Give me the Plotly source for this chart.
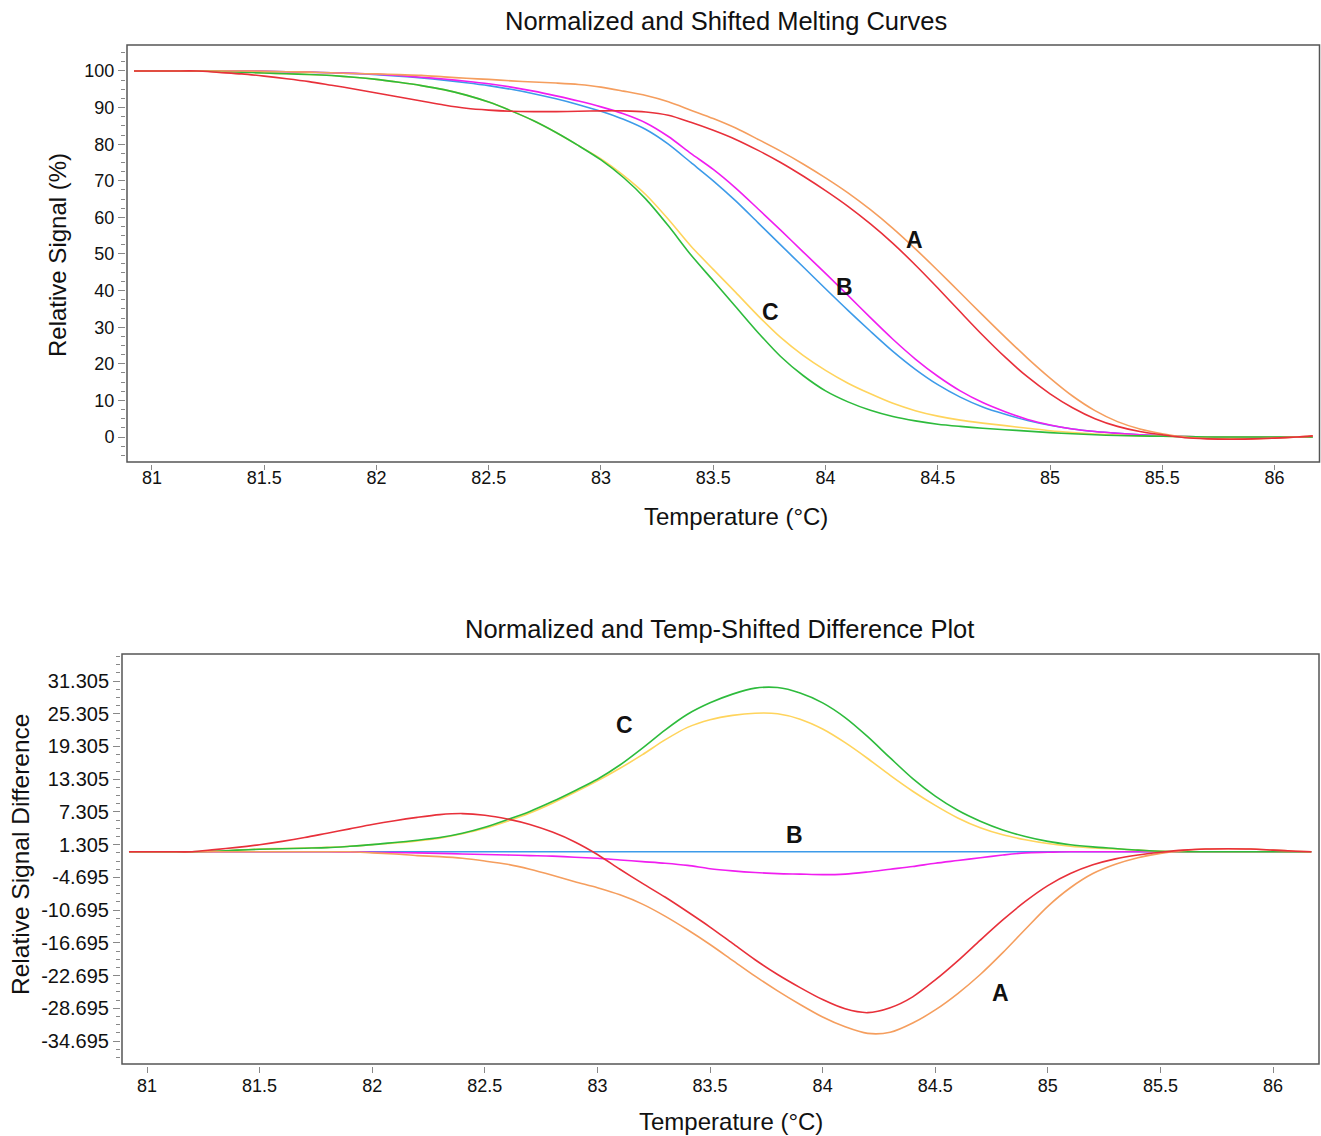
import plotly.graph_objects as go

W, H = 1321, 1136

# ---------------- data ----------------
temperature = [80.92, 81.0, 81.1, 81.2, 81.3, 81.4, 81.5, 81.6, 81.7, 81.8, 81.9, 82.0, 82.1, 82.2,
               82.3, 82.4, 82.5, 82.6, 82.7, 82.8, 82.9, 83.0, 83.1, 83.2, 83.3, 83.4, 83.5, 83.6,
               83.7, 83.8, 83.9, 84.0, 84.1, 84.2, 84.3, 84.4, 84.5, 84.6, 84.7, 84.8, 84.9, 85.0,
               85.1, 85.2, 85.3, 85.4, 85.5, 85.6, 85.7, 85.8, 85.9, 86.0, 86.1, 86.17]

# Top panel: relative signal (%)
sig_blue = [100, 100, 100, 100, 100, 100, 99.9, 99.8, 99.7, 99.5, 99.3, 99.0, 98.6, 98.1,
            97.5, 96.8, 96.0, 95.0, 93.8, 92.4, 90.8, 89.0, 86.8, 84.0, 80.0, 75.0, 70.0, 64.5,
            58.5, 52.5, 46.5, 40.5, 34.6, 28.9, 23.4, 18.5, 14.3, 10.9, 8.2, 6.2, 4.5, 3.2,
            2.2, 1.5, 1.0, 0.6, 0.3, 0.1, 0.0, 0.0, 0.0, 0.0, 0.0, 0.0]
sig_magenta = [100, 100, 100, 100, 100, 100, 99.9, 99.8, 99.7, 99.5, 99.35, 99.1, 98.75, 98.3,
               97.8, 97.2, 96.5, 95.6, 94.5, 93.2, 91.8, 90.2, 88.3, 85.8, 82.1, 77.5, 73.1, 68.0,
               62.3, 56.5, 50.6, 44.7, 38.7, 32.6, 26.7, 21.3, 16.6, 12.6, 9.4, 6.9, 4.8, 3.3,
               2.2, 1.5, 1.0, 0.6, 0.3, 0.1, 0.0, 0.0, 0.0, 0.0, 0.0, 0.0]
sig_green = [100, 100, 100, 100, 99.9, 99.7, 99.45, 99.25, 99.05, 98.75, 98.3, 97.7, 96.9, 96.0,
             94.9, 93.4, 91.5, 89.1, 86.4, 83.2, 79.6, 75.7, 70.9, 65.0, 57.7, 49.8, 42.7, 35.6,
             28.5, 22.0, 16.8, 12.6, 9.6, 7.3, 5.6, 4.4, 3.5, 2.9, 2.4, 2.0, 1.6, 1.2,
             0.9, 0.6, 0.4, 0.3, 0.2, 0.1, 0.0, 0.0, 0.0, 0.0, 0.0, 0.0]
sig_yellow = [100, 100, 100, 100, 99.9, 99.7, 99.45, 99.25, 99.05, 98.75, 98.3, 97.7, 96.9, 96.0,
              94.9, 93.4, 91.5, 89.1, 86.4, 83.2, 79.6, 76.0, 71.5, 66.2, 59.5, 52.2, 45.8, 39.5,
              33.1, 27.2, 22.3, 18.2, 14.7, 11.8, 9.2, 7.2, 5.7, 4.6, 3.8, 3.1, 2.4, 1.7,
              1.2, 0.8, 0.5, 0.3, 0.2, 0.1, 0.0, 0.0, 0.0, 0.0, 0.0, 0.0]
sig_orange = [100, 100, 100, 100, 100, 100, 99.9, 99.8, 99.7, 99.5, 99.3, 99.2, 99.0, 98.8,
              98.4, 98.0, 97.7, 97.3, 97.0, 96.7, 96.3, 95.6, 94.5, 93.3, 91.6, 89.3, 87.0, 84.4,
              81.3, 78.1, 74.6, 70.8, 66.7, 62.1, 57.0, 51.4, 45.5, 39.4, 33.3, 27.3, 21.5, 16.1,
              11.2, 7.2, 4.2, 2.2, 0.9, 0.0, -0.4, -0.5, -0.5, -0.3, 0.0, 0.3]
sig_red = [100, 100, 100, 100, 99.6, 99.2, 98.6, 97.9, 97.1, 96.1, 95.1, 94.0, 92.9, 91.8,
           90.7, 89.8, 89.3, 89.0, 88.9, 88.9, 89.0, 89.1, 89.1, 88.8, 87.9, 86.0, 83.8, 81.3,
           78.3, 75.0, 71.3, 67.3, 63.0, 58.2, 52.9, 47.0, 40.7, 34.2, 27.8, 21.8, 16.4, 11.8,
           8.0, 5.0, 2.9, 1.5, 0.6, -0.2, -0.5, -0.6, -0.5, -0.3, 0.0, 0.3]

# Bottom panel: relative signal difference
diff_blue = [0, 0, 0, 0, 0, 0, 0, 0, 0, 0, 0, 0, 0, 0, 0, 0, 0, 0, 0, 0, 0, 0, 0, 0, 0, 0, 0,
             0, 0, 0, 0, 0, 0, 0, 0, 0, 0, 0, 0, 0, 0, 0, 0, 0, 0, 0, 0, 0, 0, 0, 0, 0, 0, 0]
diff_magenta = [0, 0, 0, 0, 0, 0, 0, 0, 0, 0, -0.05, -0.1, -0.15, -0.2,
                -0.3, -0.4, -0.5, -0.6, -0.7, -0.8, -1.0, -1.2, -1.5, -1.8, -2.1, -2.5, -3.1, -3.5,
                -3.8, -4.0, -4.1, -4.2, -4.1, -3.7, -3.2, -2.7, -2.1, -1.6, -1.1, -0.6, -0.2, -0.1,
                0, 0, 0, 0, 0, 0, 0, 0, 0, 0, 0, 0]
diff_green = [0, 0, 0, 0, 0.1, 0.3, 0.45, 0.55, 0.65, 0.75, 1.0, 1.3, 1.7, 2.1,
              2.6, 3.4, 4.5, 5.9, 7.4, 9.2, 11.2, 13.3, 15.9, 19.0, 22.3, 25.2, 27.3, 28.9,
              30.0, 30.1, 29.1, 27.3, 24.6, 21.1, 17.2, 13.4, 10.2, 7.6, 5.6, 4.0, 2.8, 1.9,
              1.3, 0.9, 0.6, 0.3, 0.1, 0, 0, 0, 0, 0, 0, 0]
diff_yellow = [0, 0, 0, 0, 0.1, 0.3, 0.5, 0.6, 0.7, 0.8, 1.0, 1.3, 1.6, 2.0,
               2.5, 3.3, 4.3, 5.6, 7.1, 8.9, 10.9, 13.0, 15.3, 17.8, 20.5, 22.8, 24.2, 25.0,
               25.4, 25.3, 24.3, 22.5, 20.0, 17.1, 14.0, 11.1, 8.5, 6.2, 4.4, 3.1, 2.2, 1.5,
               1.0, 0.7, 0.5, 0.3, 0.1, 0, 0, 0, 0, 0, 0, 0]
diff_red = [0, 0, 0, 0, 0.4, 0.8, 1.3, 1.9, 2.6, 3.4, 4.2, 5.0, 5.7, 6.3,
            6.8, 7.0, 6.7, 6.0, 5.0, 3.6, 1.8, -0.5, -3.2, -5.8, -8.3, -11.0, -13.8, -16.8,
            -19.8, -22.5, -24.9, -27.1, -28.8, -29.5, -28.6, -26.6, -23.5, -20.0, -16.2, -12.5, -9.1, -6.2,
            -4.0, -2.4, -1.3, -0.6, -0.1, 0.3, 0.5, 0.55, 0.5, 0.3, 0.1, 0.0]
diff_orange = [0, 0, 0, 0, 0, 0, 0, 0, 0, 0, 0, -0.2, -0.4, -0.7,
               -0.9, -1.2, -1.7, -2.3, -3.2, -4.3, -5.5, -6.6, -7.9, -9.6, -11.8, -14.3, -17.0, -19.9,
               -22.8, -25.5, -28.0, -30.3, -32.1, -33.3, -33.1, -31.4, -29.0, -26.0, -22.5, -18.5, -14.2, -10.0,
               -6.6, -4.0, -2.3, -1.1, -0.3, 0.2, 0.5, 0.55, 0.5, 0.3, 0.1, 0.0]

x_tick_vals = [81, 81.5, 82, 82.5, 83, 83.5, 84, 84.5, 85, 85.5, 86]
x_tick_text = ["81", "81.5", "82", "82.5", "83", "83.5", "84", "84.5", "85", "85.5", "86"]
top_y_tick_vals = [0, 10, 20, 30, 40, 50, 60, 70, 80, 90, 100]
top_y_tick_text = ["0", "10", "20", "30", "40", "50", "60", "70", "80", "90", "100"]
bot_y_tick_vals = [31.305, 25.305, 19.305, 13.305, 7.305, 1.305, -4.695, -10.695,
                   -16.695, -22.695, -28.695, -34.695]
bot_y_tick_text = ["31.305", "25.305", "19.305", "13.305", "7.305", "1.305", "-4.695", "-10.695",
                   "-16.695", "-22.695", "-28.695", "-34.695"]

# ---------------- styling ----------------
FONT = "Liberation Sans, Arial, sans-serif"
C_BLUE = "#3d9be9"
C_MAGENTA = "#f01ef0"
C_GREEN = "#2dbb3c"
C_YELLOW = "#ffd45c"
C_ORANGE = "#f59e5e"
C_RED = "#e8303a"
LW = 1.6

fig = go.Figure()

top_series = [(sig_blue, C_BLUE), (sig_magenta, C_MAGENTA), (sig_yellow, C_YELLOW),
              (sig_green, C_GREEN), (sig_orange, C_ORANGE), (sig_red, C_RED)]
for vals, col in top_series:
    fig.add_trace(go.Scatter(x=temperature, y=vals, mode="lines", xaxis="x", yaxis="y",
                             line=dict(color=col, width=LW, shape="spline", smoothing=0.8),
                             showlegend=False, hoverinfo="skip"))

bot_series = [(diff_blue, C_BLUE), (diff_magenta, C_MAGENTA), (diff_yellow, C_YELLOW),
              (diff_green, C_GREEN), (diff_orange, C_ORANGE), (diff_red, C_RED)]
for vals, col in bot_series:
    fig.add_trace(go.Scatter(x=temperature, y=vals, mode="lines", xaxis="x2", yaxis="y2",
                             line=dict(color=col, width=LW, shape="spline", smoothing=0.8),
                             showlegend=False, hoverinfo="skip"))

# pixel geometry of the two boxes
T_L, T_R, T_T, T_B = 127, 1319.5, 45, 462
B_L, B_R, B_T, B_B = 122, 1319, 654, 1064


def px(x):
    return x / W


def py(y):
    return 1 - y / H


def tick_common(size):
    return dict(ticks="outside", tickcolor="#888", tickwidth=1, showgrid=False,
                zeroline=False, showline=False, tickmode="array",
                tickfont=dict(family=FONT, size=size, color="#111"))


fig.update_layout(
    width=W, height=H,
    margin=dict(l=0, r=0, t=0, b=0),
    paper_bgcolor="white", plot_bgcolor="white",
    font=dict(family=FONT, color="#111"),
    xaxis=dict(domain=[px(T_L), px(T_R)], range=[80.889, 86.2], anchor="free",
               position=py(T_B + 2), ticklen=5, tickvals=x_tick_vals, ticktext=x_tick_text,
               ticklabelstandoff=-8, **tick_common(18)),
    yaxis=dict(domain=[py(T_B), py(T_T)], range=[-6.83, 107.1], anchor="free",
               position=px(T_L - 2), ticklen=7, tickvals=top_y_tick_vals,
               ticktext=top_y_tick_text,
               minor=dict(ticks="outside", ticklen=4, tick0=0, dtick=2.5, tickcolor="#888",
                          showgrid=False),
               **tick_common(18)),
    xaxis2=dict(domain=[px(B_L), px(B_R)], range=[80.889, 86.204], anchor="free",
                position=py(B_B + 2), ticklen=6, tickvals=x_tick_vals, ticktext=x_tick_text,
                ticklabelstandoff=-3, **tick_common(18)),
    yaxis2=dict(domain=[py(B_B), py(B_T)], range=[-38.91, 36.255], anchor="free",
                position=px(B_L - 2), ticklen=7, tickvals=bot_y_tick_vals,
                ticktext=bot_y_tick_text,
                minor=dict(ticks="outside", ticklen=4, tick0=1.305, dtick=1.5, tickcolor="#888",
                           showgrid=False),
                **tick_common(20)),
)

# frames
fig.add_shape(type="rect", xref="paper", yref="paper", x0=px(T_L), x1=px(T_R),
              y0=py(T_B), y1=py(T_T), line=dict(color="#555", width=1.5))
fig.add_shape(type="rect", xref="paper", yref="paper", x0=px(B_L), x1=px(B_R),
              y0=py(B_B), y1=py(B_T), line=dict(color="#555", width=1.5))


def ann_paper(text, x, y, size, angle=0):
    fig.add_annotation(text=text, xref="paper", yref="paper", x=px(x), y=py(y),
                       xanchor="center", yanchor="middle", showarrow=False, textangle=angle,
                       font=dict(family=FONT, size=size, color="#111"))


ann_paper("Normalized and Shifted Melting Curves", 726, 21, 25.5)
ann_paper("Temperature (°C)", 736, 516, 24)
ann_paper("Relative Signal (%)", 57, 255, 24, -90)
ann_paper("Normalized and Temp-Shifted Difference Plot", 719, 629, 25.5)
ann_paper("Temperature (°C)", 731, 1121, 24)
ann_paper("Relative Signal Difference", 20, 855, 24.5, -90)

# curve labels
label_specs = [("A", 84.397, 53.8, "x", "y"), ("B", 84.085, 41.0, "x", "y"),
               ("C", 83.755, 34.2, "x", "y"), ("C", 83.118, 23.3, "x2", "y2"),
               ("B", 83.877, 3.1, "x2", "y2"), ("A", 84.79, -25.85, "x2", "y2")]
for txt, lx, ly, xr, yr in label_specs:
    fig.add_annotation(text="<b>" + txt + "</b>", x=lx, y=ly, xref=xr, yref=yr,
                       showarrow=False, xanchor="center", yanchor="middle",
                       font=dict(family=FONT, size=23, color="#111"))

fig.write_html("out.html", config={"displayModeBar": False},
               post_script="document.body.style.margin='0px';document.body.style.overflow='hidden';")
